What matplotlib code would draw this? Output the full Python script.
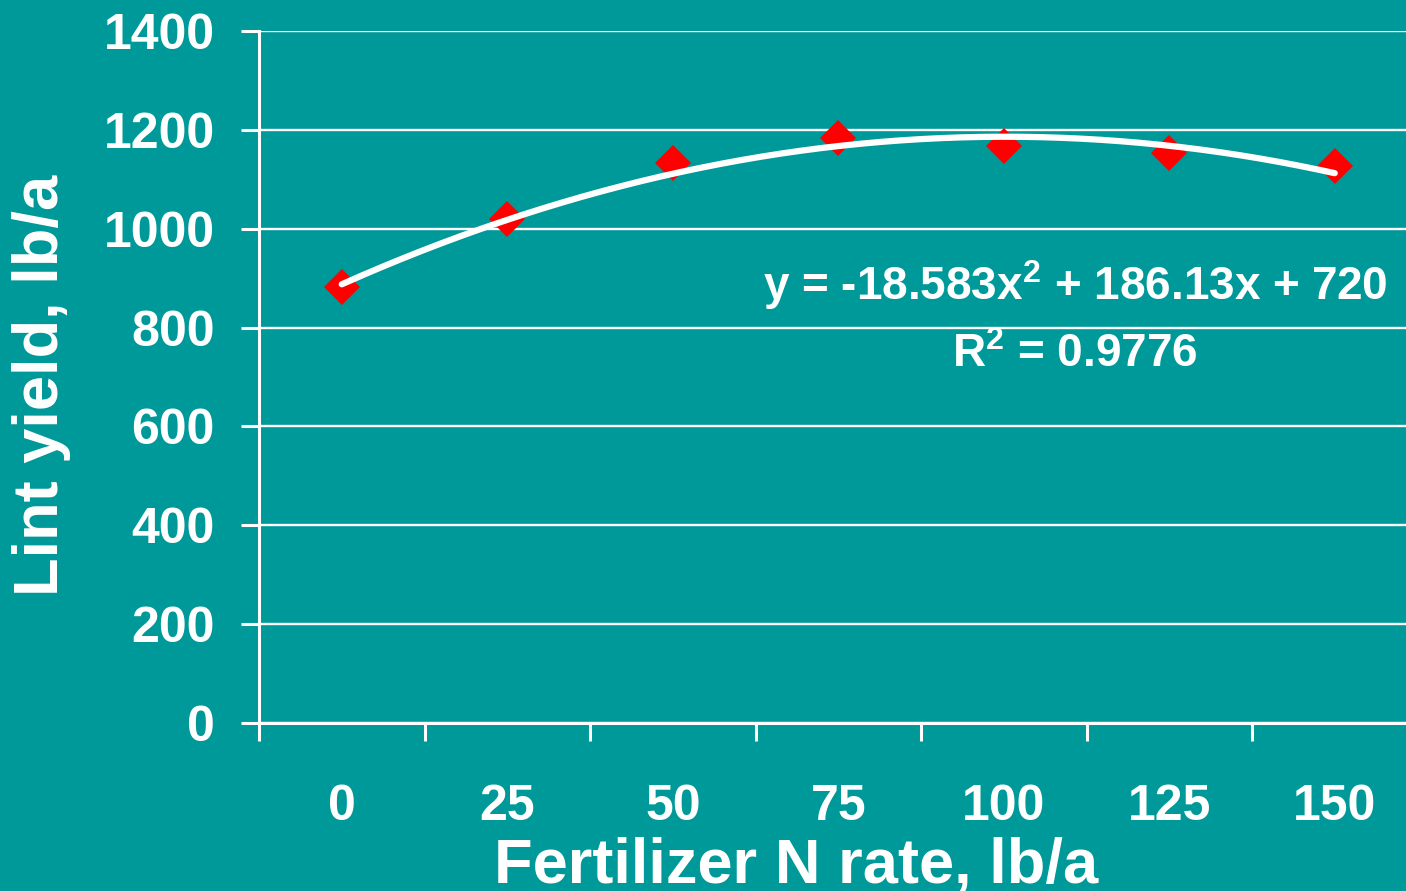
import numpy as np
import matplotlib
matplotlib.use("Agg")
import matplotlib.pyplot as plt
from matplotlib.ticker import FixedLocator

# data
n_rates = [0, 25, 50, 75, 100, 125, 150]
lint_yield = [882, 1020, 1133, 1183, 1167, 1153, 1127]
y_ticks = [0, 200, 400, 600, 800, 1000, 1200, 1400]

# quadratic trendline coefficients (x = category index 1..7)
coef_a, coef_b, coef_c = -18.583, 186.13, 720
r_squared = 0.9776

teal = "#009999"
plt.rcParams["font.family"] = ["Liberation Sans", "DejaVu Sans"]
plt.rcParams["font.weight"] = "bold"
plt.rcParams["mathtext.fontset"] = "custom"
plt.rcParams["mathtext.rm"] = "Liberation Sans:bold"
plt.rcParams["mathtext.bf"] = "Liberation Sans:bold"
plt.rcParams["mathtext.it"] = "Liberation Sans:bold"
plt.rcParams["mathtext.default"] = "bf"

fig = plt.figure(figsize=(14.06, 8.91), dpi=100, facecolor=teal)
ax = fig.add_axes([259 / 1406, 168 / 891, 1158.5 / 1406, 692 / 891])
ax.set_facecolor(teal)

x = np.arange(1, len(n_rates) + 1)

# trendline
xs = np.linspace(1, len(n_rates), 200)
ax.plot(xs, coef_a * xs**2 + coef_b * xs + coef_c, color="white",
        lw=4.5, solid_capstyle="round", zorder=3)

ax.plot(x, lint_yield, linestyle="none", marker="D", ms=18.5,
        color="#ff0000", mew=0, zorder=2)

ax.set_xlim(0.5, len(n_rates) + 0.5)
ax.set_ylim(0, 1400)
ax.set_yticks(y_ticks)
ax.set_xticks(x)
ax.set_xticklabels([str(v) for v in n_rates])
ax.xaxis.set_minor_locator(FixedLocator(np.arange(0.5, len(n_rates) + 1, 1)))

ax.grid(axis="y", color="white", lw=1.7, zorder=1)
ax.set_axisbelow(True)
for s in ["top", "right"]:
    ax.spines[s].set_visible(False)
for s in ["left", "bottom"]:
    ax.spines[s].set_color("white")
    ax.spines[s].set_linewidth(2.2)

ax.tick_params(axis="x", which="major", length=0, pad=44, labelsize=36,
               labelcolor="white")
ax.tick_params(axis="x", which="minor", length=13, width=2.2, color="white",
               direction="out")
ax.tick_params(axis="y", length=13, width=2.2, color="white", pad=19,
               labelsize=36, labelcolor="white")

ax.text(5.43, 856, r"y = -18.583x$^2$ + 186.13x + 720", color="white",
        fontsize=33, fontweight="bold", ha="center", va="baseline")
ax.text(5.43, 720, r"R$^2$ = " + f"{r_squared}", color="white",
        fontsize=33, fontweight="bold", ha="center", va="baseline")

fig.text(796 / 1406, 1 - 883 / 891, "Fertilizer N rate, lb/a", color="white",
         fontsize=45.5, fontweight="bold", ha="center", va="baseline")
fig.text(42 / 1406, 1 - 385 / 891, "Lint yield, lb/a", color="white",
         fontsize=45.5, fontweight="bold", ha="center", va="center",
         rotation=90)

fig.savefig("out.png", dpi=100, facecolor=teal)
